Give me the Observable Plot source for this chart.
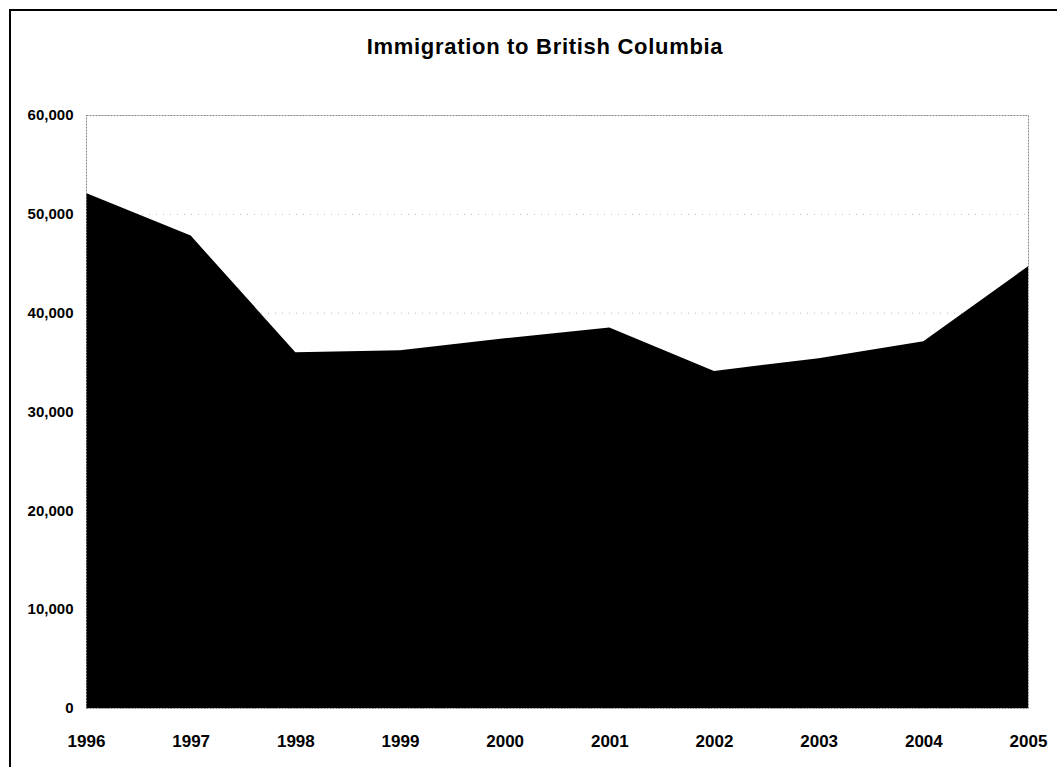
<!DOCTYPE html>
<html>
<head>
<meta charset="utf-8">
<script src="https://cdn.jsdelivr.net/npm/d3@7"></script>
<script src="https://cdn.jsdelivr.net/npm/@observablehq/plot@0.6"></script>
<style>
  html, body { margin: 0; padding: 0; background: #fff; }
  #wrap { position: relative; width: 1057px; height: 767px; overflow: hidden; font-family: "Liberation Sans", Arial, sans-serif; }
  #border { position: absolute; left: 9px; top: 9px; width: 1100px; height: 800px; border-left: 2px solid #000; border-top: 2px solid #000; box-sizing: border-box; }
  #title { position: absolute; left: 0; top: 34px; width: 1090px; text-align: center; font-weight: bold; font-size: 22px; letter-spacing: 0.7px; color: #000; }
  #chart { position: absolute; left: 0; top: 0; }
</style>
</head>
<body>
<div id="wrap">
  <div id="border"></div>
  <div id="chart"></div>
  <div id="title">Immigration to British Columbia</div>
</div>
<script>
const years = [1996, 1997, 1998, 1999, 2000, 2001, 2002, 2003, 2004, 2005];
const immigrants = [52100, 47800, 36000, 36200, 37400, 38500, 34100, 35400, 37100, 44700];
const yTicks = [0, 10000, 20000, 30000, 40000, 50000, 60000];

const data = years.map((y, i) => ({year: y, value: immigrants[i]}));

const chart = Plot.plot({
  width: 1057,
  height: 767,
  marginLeft: 86,
  marginRight: 29,
  marginTop: 115,
  marginBottom: 59,
  style: {fontFamily: "'Liberation Sans', Arial, sans-serif", background: "transparent", color: "#000"},
  x: {type: "linear", domain: [1996, 2005], label: null},
  y: {domain: [0, 60000], label: null},
  marks: [
    Plot.gridY(yTicks, {stroke: "#bbb", strokeOpacity: 1, strokeDasharray: "1,6"}),
    Plot.areaY(data, {x: "year", y: "value", fill: "#000"}),
    Plot.frame({stroke: "#888", strokeDasharray: "2,1"}),
    Plot.axisY(yTicks, {tickSize: 0, tickPadding: 13, tickFormat: d3.format(","), fontSize: 15, fontWeight: "bold", fill: "#000", label: null}),
    Plot.axisX(years, {tickSize: 0, tickPadding: 26, tickFormat: d => String(d), fontSize: 17, fontWeight: "bold", fill: "#000", label: null})
  ]
});
document.getElementById("chart").appendChild(chart);
</script>
</body>
</html>
